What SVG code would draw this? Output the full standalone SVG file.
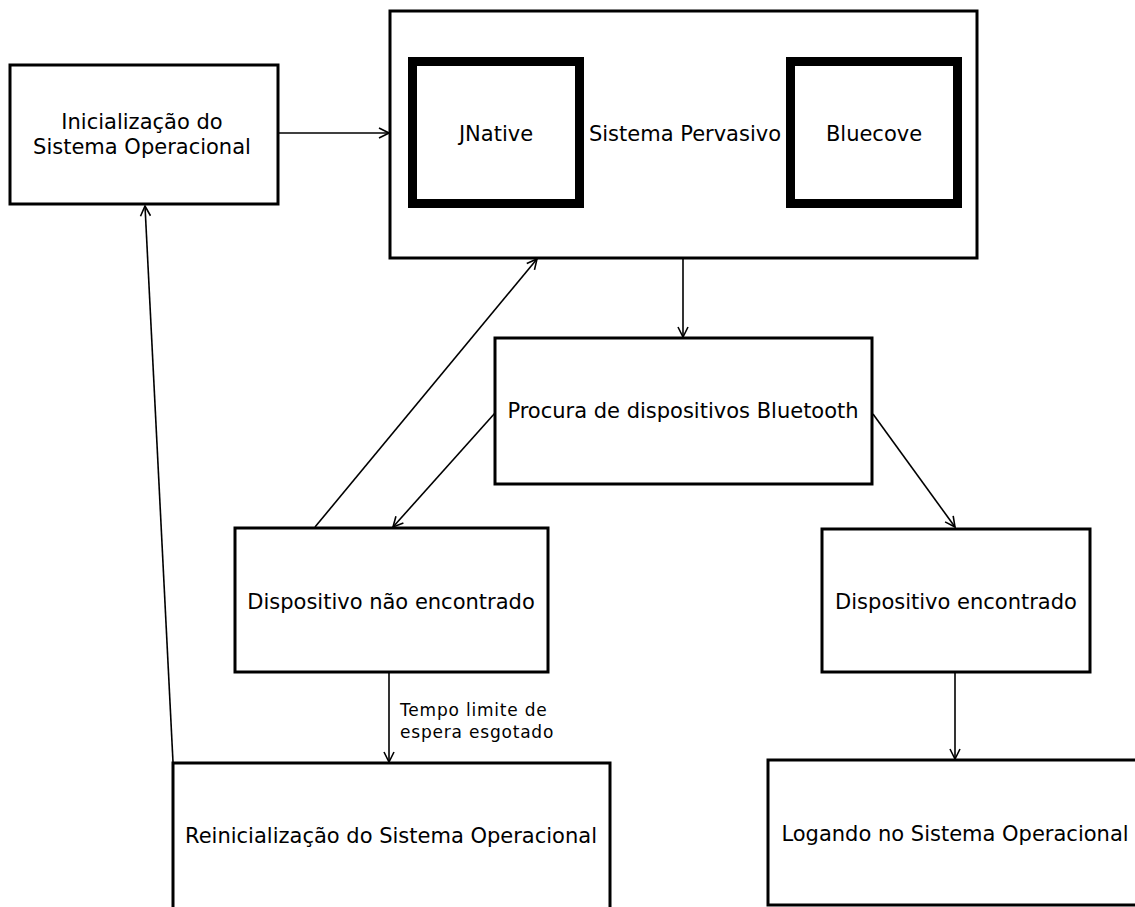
<svg xmlns="http://www.w3.org/2000/svg" width="1135" height="907" viewBox="0 0 1135 907">
<style>
.box{fill:#fff;stroke:#000;stroke-width:3}
.inner{fill:#fff;stroke:#000;stroke-width:9}
.t{font-family:"DejaVu Sans",sans-serif;font-size:21px;fill:#000;text-anchor:middle;dominant-baseline:central}
.s{font-family:"DejaVu Sans",sans-serif;font-size:17px;letter-spacing:0.8px;fill:#000}
.c{stroke:#000;stroke-width:1.6;fill:none;marker-end:url(#a)}
</style>
<defs>
<marker id="a" viewBox="0 0 12 12" refX="11" refY="6" markerWidth="12" markerHeight="12" markerUnits="userSpaceOnUse" orient="auto">
<path d="M1,1 L11,6 L1,11" fill="none" stroke="#000" stroke-width="1.6"/>
</marker>
</defs>
<rect width="1135" height="907" fill="#fff"/>
<g id="n-init">
<rect class="box" x="10" y="65" width="268" height="139"/>
<text class="t" x="142" y="122">Inicialização do</text>
<text class="t" x="142" y="147">Sistema Operacional</text>
</g>
<g id="n-pervasivo">
<rect class="box" x="390" y="11" width="587" height="247"/>
<text class="t" x="685" y="134">Sistema Pervasivo</text>
</g>
<g id="n-jnative">
<rect class="inner" x="412.5" y="61.5" width="167" height="142"/>
<text class="t" x="496" y="134">JNative</text>
</g>
<g id="n-bluecove">
<rect class="inner" x="790.5" y="61.5" width="167" height="142"/>
<text class="t" x="874" y="134">Bluecove</text>
</g>
<g id="n-procura">
<rect class="box" x="495" y="338" width="377" height="146"/>
<text class="t" x="683" y="411">Procura de dispositivos Bluetooth</text>
</g>
<g id="n-nao">
<rect class="box" x="235" y="528" width="313" height="144"/>
<text class="t" x="391" y="602">Dispositivo não encontrado</text>
</g>
<g id="n-encontrado">
<rect class="box" x="822" y="529" width="268" height="143"/>
<text class="t" x="956" y="602">Dispositivo encontrado</text>
</g>
<g id="n-reinit">
<rect class="box" x="173" y="763" width="437" height="160"/>
<text class="t" x="391" y="836">Reinicialização do Sistema Operacional</text>
</g>
<g id="n-logando">
<rect class="box" x="768" y="760" width="380" height="145"/>
<text class="t" x="955" y="834">Logando no Sistema Operacional</text>
</g>
<g id="connectors">
<line class="c" x1="279" y1="133" x2="389" y2="133"/>
<line class="c" x1="683" y1="259" x2="683" y2="337"/>
<line class="c" x1="495" y1="413" x2="393" y2="527"/>
<line class="c" x1="315" y1="527" x2="537" y2="259"/>
<line class="c" x1="873" y1="414" x2="955" y2="527"/>
<line class="c" x1="389" y1="673" x2="389" y2="762"/>
<line class="c" x1="955" y1="673" x2="955" y2="759"/>
<line class="c" x1="173" y1="762" x2="145" y2="206"/>
<text class="s" x="400" y="716">Tempo limite de</text>
<text class="s" x="400" y="738">espera esgotado</text>
</g>
</svg>
